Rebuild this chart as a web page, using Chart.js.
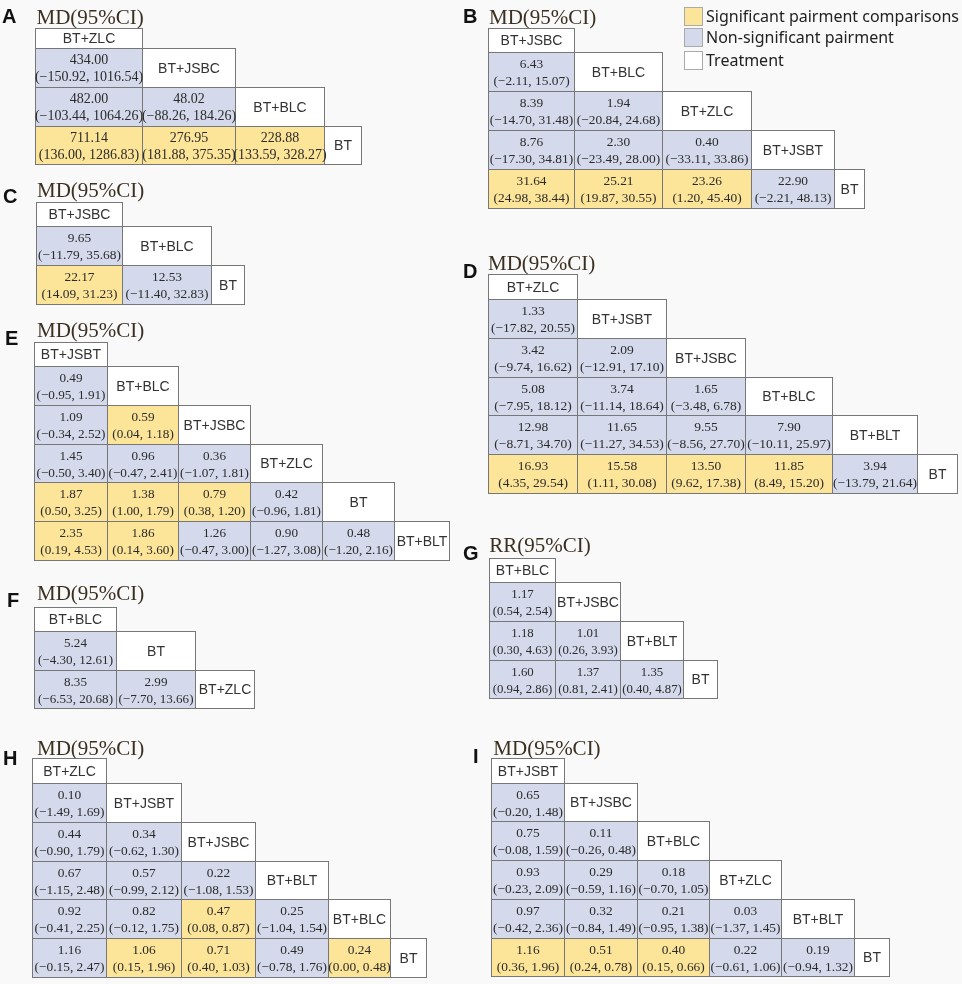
<!DOCTYPE html>
<html>
<head>
<meta charset="utf-8">
<title>League tables</title>
<script src="https://cdn.jsdelivr.net/npm/chart.js@4.4.1/dist/chart.umd.min.js"></script>
<style>
  html, body { margin: 0; padding: 0; background: #f9f9f9; }
  #wrap { width: 962px; height: 984px; }
</style>
</head>
<body>
<div id="wrap"><canvas id="league"></canvas></div>
<script>
// ---- values (lower triangle, row by row) ----
const A_treatments = ['BT+ZLC', 'BT+JSBC', 'BT+BLC', 'BT'];
const A_est  = [[434.00], [482.00, 48.02], [711.14, 276.95, 228.88]];
const A_low  = [[-150.92], [-103.44, -88.26], [136.00, 181.88, 133.59]];
const A_high = [[1016.54], [1064.26, 184.26], [1286.83, 375.35, 328.27]];
const A_sig  = [[0], [0, 0], [1, 1, 1]];

const B_treatments = ['BT+JSBC', 'BT+BLC', 'BT+ZLC', 'BT+JSBT', 'BT'];
const B_est  = [[6.43], [8.39, 1.94], [8.76, 2.30, 0.40], [31.64, 25.21, 23.26, 22.90]];
const B_low  = [[-2.11], [-14.70, -20.84], [-17.30, -23.49, -33.11], [24.98, 19.87, 1.20, -2.21]];
const B_high = [[15.07], [31.48, 24.68], [34.81, 28.00, 33.86], [38.44, 30.55, 45.40, 48.13]];
const B_sig  = [[0], [0, 0], [0, 0, 0], [1, 1, 1, 0]];

const C_treatments = ['BT+JSBC', 'BT+BLC', 'BT'];
const C_est  = [[9.65], [22.17, 12.53]];
const C_low  = [[-11.79], [14.09, -11.40]];
const C_high = [[35.68], [31.23, 32.83]];
const C_sig  = [[0], [1, 0]];

const D_treatments = ['BT+ZLC', 'BT+JSBT', 'BT+JSBC', 'BT+BLC', 'BT+BLT', 'BT'];
const D_est  = [[1.33], [3.42, 2.09], [5.08, 3.74, 1.65], [12.98, 11.65, 9.55, 7.90], [16.93, 15.58, 13.50, 11.85, 3.94]];
const D_low  = [[-17.82], [-9.74, -12.91], [-7.95, -11.14, -3.48], [-8.71, -11.27, -8.56, -10.11], [4.35, 1.11, 9.62, 8.49, -13.79]];
const D_high = [[20.55], [16.62, 17.10], [18.12, 18.64, 6.78], [34.70, 34.53, 27.70, 25.97], [29.54, 30.08, 17.38, 15.20, 21.64]];
const D_sig  = [[0], [0, 0], [0, 0, 0], [0, 0, 0, 0], [1, 1, 1, 1, 0]];

const E_treatments = ['BT+JSBT', 'BT+BLC', 'BT+JSBC', 'BT+ZLC', 'BT', 'BT+BLT'];
const E_est  = [[0.49], [1.09, 0.59], [1.45, 0.96, 0.36], [1.87, 1.38, 0.79, 0.42], [2.35, 1.86, 1.26, 0.90, 0.48]];
const E_low  = [[-0.95], [-0.34, 0.04], [-0.50, -0.47, -1.07], [0.50, 1.00, 0.38, -0.96], [0.19, 0.14, -0.47, -1.27, -1.20]];
const E_high = [[1.91], [2.52, 1.18], [3.40, 2.41, 1.81], [3.25, 1.79, 1.20, 1.81], [4.53, 3.60, 3.00, 3.08, 2.16]];
const E_sig  = [[0], [0, 1], [0, 0, 0], [1, 1, 1, 0], [1, 1, 0, 0, 0]];

const F_treatments = ['BT+BLC', 'BT', 'BT+ZLC'];
const F_est  = [[5.24], [8.35, 2.99]];
const F_low  = [[-4.30], [-6.53, -7.70]];
const F_high = [[12.61], [20.68, 13.66]];
const F_sig  = [[0], [0, 0]];

const G_treatments = ['BT+BLC', 'BT+JSBC', 'BT+BLT', 'BT'];
const G_est  = [[1.17], [1.18, 1.01], [1.60, 1.37, 1.35]];
const G_low  = [[0.54], [0.30, 0.26], [0.94, 0.81, 0.40]];
const G_high = [[2.54], [4.63, 3.93], [2.86, 2.41, 4.87]];
const G_sig  = [[0], [0, 0], [0, 0, 0]];

const H_treatments = ['BT+ZLC', 'BT+JSBT', 'BT+JSBC', 'BT+BLT', 'BT+BLC', 'BT'];
const H_est  = [[0.10], [0.44, 0.34], [0.67, 0.57, 0.22], [0.92, 0.82, 0.47, 0.25], [1.16, 1.06, 0.71, 0.49, 0.24]];
const H_low  = [[-1.49], [-0.90, -0.62], [-1.15, -0.99, -1.08], [-0.41, -0.12, 0.08, -1.04], [-0.15, 0.15, 0.40, -0.78, 0.00]];
const H_high = [[1.69], [1.79, 1.30], [2.48, 2.12, 1.53], [2.25, 1.75, 0.87, 1.54], [2.47, 1.96, 1.03, 1.76, 0.48]];
const H_sig  = [[0], [0, 0], [0, 0, 0], [0, 0, 1, 0], [0, 1, 1, 0, 1]];

const I_treatments = ['BT+JSBT', 'BT+JSBC', 'BT+BLC', 'BT+ZLC', 'BT+BLT', 'BT'];
const I_est  = [[0.65], [0.75, 0.11], [0.93, 0.29, 0.18], [0.97, 0.32, 0.21, 0.03], [1.16, 0.51, 0.40, 0.22, 0.19]];
const I_low  = [[-0.20], [-0.08, -0.26], [-0.23, -0.59, -0.70], [-0.42, -0.84, -0.95, -1.37], [0.36, 0.24, 0.15, -0.61, -0.94]];
const I_high = [[1.48], [1.59, 0.48], [2.09, 1.16, 1.05], [2.36, 1.49, 1.38, 1.45], [1.96, 0.78, 0.66, 1.06, 1.32]];
const I_sig  = [[0], [0, 0], [0, 0, 0], [0, 0, 0, 0], [1, 1, 1, 0, 0]];

const legendLabels = ['Significant pairment comparisons', 'Non-significant pairment', 'Treatment'];

// ---- layout (page units, the chart scales map them to the canvas) ----
const W = 962, H = 984;
const colors = { sig: '#fce498', nonsig: '#d4daeb', treat: '#ffffff', border: '#777777',
                 title: '#3b2f20', text: '#2b2b2b', bg: '#f9f9f9' };

const panels = [
  { tag: 'A', tagAt: [2, 23],   title: 'MD(95%CI)', titleAt: [36.5, 24],   left: 35,    top: 28.3,  cols: [106.7, 93, 89.3, 37],              headH: 20,   rowH: 38.7, num: 14,
    tr: A_treatments, est: A_est, low: A_low, high: A_high, sig: A_sig },
  { tag: 'B', tagAt: [463, 23], title: 'MD(95%CI)', titleAt: [489, 24],    left: 487.7, top: 28.3,  cols: [86.6, 87.4, 89, 83.3, 30.3],       headH: 23.7, rowH: 38.9, num: 13.4,
    tr: B_treatments, est: B_est, low: B_low, high: B_high, sig: B_sig },
  { tag: 'C', tagAt: [3, 203],  title: 'MD(95%CI)', titleAt: [37, 197.3],  left: 35.7,  top: 201.7, cols: [86.6, 88.4, 33],                  headH: 24.3, rowH: 38.85, num: 13.4,
    tr: C_treatments, est: C_est, low: C_low, high: C_high, sig: C_sig },
  { tag: 'D', tagAt: [463, 278], title: 'MD(95%CI)', titleAt: [488, 270],  left: 487.7, top: 274.3, cols: [89.6, 88.4, 79.3, 86.7, 85.6, 39.4], headH: 25, rowH: 38.7, num: 13.5,
    tr: D_treatments, est: D_est, low: D_low, high: D_high, sig: D_sig },
  { tag: 'E', tagAt: [5, 345],  title: 'MD(95%CI)', titleAt: [37, 336.7],  left: 33.7,  top: 341.7, cols: [73, 71.6, 71.7, 71.7, 72.3, 55.3], headH: 24.3, rowH: 38.8, num: 13.2,
    tr: E_treatments, est: E_est, low: E_low, high: E_high, sig: E_sig },
  { tag: 'F', tagAt: [7, 606.5], title: 'MD(95%CI)', titleAt: [37, 600],   left: 33.7,  top: 606.7, cols: [82, 79.3, 58.7],                  headH: 24.3, rowH: 38.65, num: 13.1,
    tr: F_treatments, est: F_est, low: F_low, high: F_high, sig: F_sig },
  { tag: 'G', tagAt: [463, 560], title: 'RR(95%CI)', titleAt: [489.3, 552.3], left: 489, top: 557.7, cols: [65.7, 65.6, 62.4, 34],           headH: 24.6, rowH: 38.7, num: 12.8,
    tr: G_treatments, est: G_est, low: G_low, high: G_high, sig: G_sig },
  { tag: 'H', tagAt: [3, 765],  title: 'MD(95%CI)', titleAt: [37, 755],    left: 32,    top: 758.3, cols: [74, 74.7, 74.3, 72.7, 62.3, 36],   headH: 25,   rowH: 38.7, num: 13.4,
    tr: H_treatments, est: H_est, low: H_low, high: H_high, sig: H_sig },
  { tag: 'I', tagAt: [473, 763], title: 'MD(95%CI)', titleAt: [493.3, 755], left: 490.7, top: 758.3, cols: [73.3, 73.3, 72, 71.7, 73, 35.3], headH: 24.4, rowH: 38.7, num: 13.4,
    tr: I_treatments, est: I_est, low: I_low, high: I_high, sig: I_sig }
];

const legendBox = { x: 683.5, size: 19, rows: [16, 37.5, 60.5], textX: 706 };

function fmt(v) {
  return (v < 0 ? '\u2212' : '') + Math.abs(v).toFixed(2);
}

const leagueTables = {
  id: 'leagueTables',
  afterDraw(chart) {
    const { ctx, scales: { x, y } } = chart;
    const px = v => Math.round(x.getPixelForValue(v));
    const py = v => Math.round(y.getPixelForValue(v));
    ctx.save();

    function cell(x0, y0, x1, y1, fill) {
      const l = px(x0), t = py(y0), r = px(x1), b = py(y1);
      ctx.fillStyle = fill;
      ctx.fillRect(l, t, r - l, b - t);
      ctx.strokeStyle = colors.border;
      ctx.lineWidth = 1;
      ctx.strokeRect(l + 0.5, t + 0.5, r - l, b - t);
    }

    panels.forEach(p => {
      const xs = [p.left];
      p.cols.forEach(w => xs.push(xs[xs.length - 1] + w));
      const ys = [p.top, p.top + p.headH];
      for (let i = 1; i < p.tr.length; i++) ys.push(ys[ys.length - 1] + p.rowH);

      // panel letter and title
      ctx.textAlign = 'left';
      ctx.textBaseline = 'alphabetic';
      ctx.fillStyle = '#111';
      ctx.font = 'bold 20px "Liberation Sans", Arial, sans-serif';
      ctx.fillText(p.tag, x.getPixelForValue(p.tagAt[0]), y.getPixelForValue(p.tagAt[1]));
      ctx.fillStyle = colors.title;
      ctx.font = '21px "Liberation Serif", "Times New Roman", serif';
      ctx.fillText(p.title, x.getPixelForValue(p.titleAt[0]), y.getPixelForValue(p.titleAt[1]));

      // treatment cells on the diagonal
      p.tr.forEach((name, j) => {
        cell(xs[j], ys[j], xs[j + 1], ys[j + 1], colors.treat);
        ctx.fillStyle = '#333';
        ctx.textAlign = 'center';
        ctx.font = '14px "Liberation Sans", Arial, sans-serif';
        const cx = (px(xs[j]) + px(xs[j + 1])) / 2 + 0.5;
        const cy = (py(ys[j]) + py(ys[j + 1])) / 2;
        ctx.fillText(name, cx, cy + 5);
      });

      // comparison cells
      p.est.forEach((row, r) => {
        const i = r + 1;
        row.forEach((v, j) => {
          cell(xs[j], ys[i], xs[j + 1], ys[i + 1], p.sig[r][j] ? colors.sig : colors.nonsig);
          const cx = (px(xs[j]) + px(xs[j + 1])) / 2 + 0.5;
          const t = py(ys[i]);
          ctx.fillStyle = colors.text;
          ctx.textAlign = 'center';
          ctx.font = p.num + 'px "Liberation Serif", "Times New Roman", serif';
          ctx.fillText(fmt(v), cx, t + 15.5);
          ctx.fillText('(' + fmt(p.low[r][j]) + ', ' + fmt(p.high[r][j]) + ')', cx, t + 33);
        });
      });
    });

    // legend
    const fills = [colors.sig, colors.nonsig, colors.treat];
    legendLabels.forEach((label, k) => {
      const cy = legendBox.rows[k];
      const l = px(legendBox.x), t = py(cy - legendBox.size / 2);
      ctx.fillStyle = fills[k];
      ctx.fillRect(l, t, legendBox.size, legendBox.size);
      ctx.strokeStyle = '#aaaaaa';
      ctx.strokeRect(l + 0.5, t + 0.5, legendBox.size - 1, legendBox.size - 1);
      ctx.fillStyle = '#222';
      ctx.textAlign = 'left';
      ctx.font = '16px "Noto Sans", "Open Sans", sans-serif';
      ctx.fillText(label, x.getPixelForValue(legendBox.textX), y.getPixelForValue(cy + 5.7));
    });

    ctx.restore();
  }
};

const canvas = document.getElementById('league');
canvas.style.width = W + 'px';
canvas.style.height = H + 'px';

const league = new Chart(canvas.getContext('2d'), {
  type: 'scatter',
  data: { datasets: [] },
  options: {
    responsive: false,
    maintainAspectRatio: false,
    animation: false,
    layout: { padding: 0 },
    plugins: { legend: { display: false }, tooltip: { enabled: false }, title: { display: false } },
    scales: {
      x: { type: 'linear', display: false, min: 0, max: W },
      y: { type: 'linear', display: false, min: 0, max: H, reverse: true }
    }
  },
  plugins: [leagueTables]
});
</script>
</body>
</html>
